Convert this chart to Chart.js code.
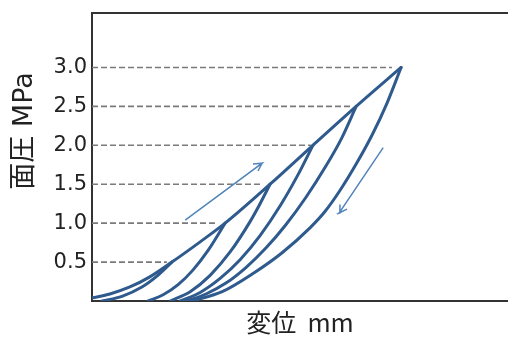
<!DOCTYPE html>
<html lang="ja">
<head>
<meta charset="utf-8">
<title>面圧と変位</title>
<script src="https://cdn.jsdelivr.net/npm/chart.js@4/dist/chart.umd.min.js"></script>
<style>
  html, body { margin: 0; padding: 0; background: #fff; }
  #wrap { width: 508px; height: 337px; }
</style>
</head>
<body>
<div id="wrap"><canvas id="loopChart"></canvas></div>
<script>
// 面圧の段階 (MPa) と目盛ラベル
const peakLevels = [0.5, 1.0, 1.5, 2.0, 2.5, 3.0];
const yTickLabels = ['0.5', '1.0', '1.5', '2.0', '2.5', '3.0'];
// 破線の終点 (変位 mm)
const guideEnds = [1.80, 3.03, 4.04, 5.26, 6.23, 7.21];

// 負荷曲線 [変位 mm, 面圧 MPa]
const loading = [[0, 0.04], [0.43, 0.09], [0.91, 0.18], [1.39, 0.31], [1.92, 0.5],
  [2.60, 0.76], [3.20, 1.0], [4.28, 1.5], [5.31, 2.0], [6.35, 2.5], [7.43, 3.0]];

// 除荷曲線 (残留変位から各ピークまで)
const unload05 = [[0.24, 0], [0.72, 0.06], [1.20, 0.18], [1.56, 0.32], [1.92, 0.5]];
const unload10 = [[1.35, 0], [1.71, 0.08], [2.07, 0.21], [2.43, 0.40], [2.79, 0.65], [3.20, 1.0]];
const unload15 = [[1.88, 0], [2.36, 0.12], [2.84, 0.33], [3.32, 0.63], [3.80, 1.02], [4.04, 1.25], [4.28, 1.5]];
const unload20 = [[2.12, 0], [2.60, 0.11], [3.08, 0.29], [3.56, 0.53], [4.04, 0.84], [4.52, 1.22], [4.95, 1.62], [5.31, 2.0]];
const unload25 = [[2.26, 0], [2.74, 0.09], [3.22, 0.23], [3.70, 0.43], [4.18, 0.68], [4.66, 0.98], [5.14, 1.33],
  [5.63, 1.74], [5.99, 2.08], [6.35, 2.5]];
const unload30 = [[2.40, 0], [3.13, 0.12], [3.89, 0.36], [4.57, 0.62], [5.24, 0.94], [5.60, 1.15], [5.96, 1.42],
  [6.35, 1.76], [6.73, 2.13], [7.09, 2.54], [7.43, 3.0]];

// 矢印 (始点 → 先端 → 羽根 → 先端 → 羽根)
const arrowLoad = [[2.24, 1.04], [4.09, 1.77], [3.87, 1.76], [4.09, 1.77], [3.99, 1.67]];
const arrowUnload = [[7.00, 1.97], [5.94, 1.13], [6.13, 1.18], [5.94, 1.13], [5.96, 1.24]];

const toPoints = arr => arr.map(([x, y]) => ({ x, y }));

const curveStyle = {
    showLine: true,
    borderColor: '#2f5a8d',
    borderWidth: 3,
    pointRadius: 0,
    cubicInterpolationMode: 'monotone',
    borderCapStyle: 'round',
    borderJoinStyle: 'round'
};

const arrowStyle = {
    showLine: true,
    borderColor: '#5285bb',
    borderWidth: 1.5,
    pointRadius: 0,
    tension: 0
};

const curves = [loading, unload05, unload10, unload15, unload20, unload25, unload30]
    .map(c => ({ ...curveStyle, data: toPoints(c) }));

const arrows = [arrowLoad, arrowUnload].map(a => ({ ...arrowStyle, data: toPoints(a) }));

const guides = peakLevels.map((v, i) => ({
    showLine: true,
    borderColor: '#7a7a7a',
    borderWidth: 1.6,
    borderDash: [6, 3],
    pointRadius: 0,
    data: [{ x: 0, y: v }, { x: guideEnds[i], y: v }]
}));

const tickFont = "'DejaVu Sans', sans-serif";
const titleFont = "'Noto Sans CJK JP', sans-serif";
const sideFont = "'DejaVu Sans', 'Noto Sans CJK JP', sans-serif";

// 縦軸タイトルは軸の中央より上寄りに置く
const sideTitle = {
    id: 'sideTitle',
    afterDraw(chart, args, opts) {
        const ctx = chart.ctx;
        ctx.save();
        ctx.translate(opts.x, opts.y);
        ctx.rotate(-Math.PI / 2);
        ctx.font = opts.font;
        ctx.fillStyle = opts.color;
        ctx.textAlign = 'center';
        ctx.textBaseline = 'middle';
        ctx.fillText(opts.text, 0, 0);
        ctx.restore();
    }
};

const hiddenGrid = { display: false, drawTicks: false };
const frameBorder = { display: true, color: '#333', width: 2 };

new Chart(document.getElementById('loopChart'), {
    type: 'scatter',
    data: { datasets: [...curves, ...arrows, ...guides] },
    options: {
        responsive: true,
        maintainAspectRatio: false,
        animation: false,
        layout: { padding: { top: 13, left: 0, right: 0, bottom: 0 } },
        plugins: {
            legend: { display: false },
            tooltip: { enabled: false },
            sideTitle: { text: '面圧 MPa', x: 25, y: 131, font: '27px ' + sideFont, color: '#222' }
        },
        scales: {
            x: {
                type: 'linear',
                min: 0,
                max: 10,
                afterFit(scale) { scale.height = 36; },
                ticks: { display: false },
                grid: hiddenGrid,
                border: frameBorder,
                title: {
                    display: true,
                    text: '変位  mm',
                    color: '#222',
                    font: { family: titleFont, size: 25 },
                    padding: 0
                }
            },
            xTop: {
                type: 'linear',
                position: 'top',
                min: 0,
                max: 10,
                afterFit(scale) { scale.height = 0; },
                ticks: { display: false },
                grid: hiddenGrid,
                border: frameBorder
            },
            y: {
                min: 0,
                max: 3.7,
                afterFit(scale) {
                    // 目盛ラベル分の上下余白は付けない
                    scale.width = 92;
                    scale.paddingTop = 0;
                    scale.paddingBottom = 0;
                },
                afterBuildTicks(scale) {
                    scale.ticks = peakLevels.map(v => ({ value: v }));
                },
                ticks: {
                    callback: (v, i) => yTickLabels[i],
                    color: '#222',
                    padding: 5,
                    font: { family: tickFont, size: 21 }
                },
                grid: hiddenGrid,
                border: frameBorder
            }
        }
    },
    plugins: [sideTitle]
});
</script>
</body>
</html>
